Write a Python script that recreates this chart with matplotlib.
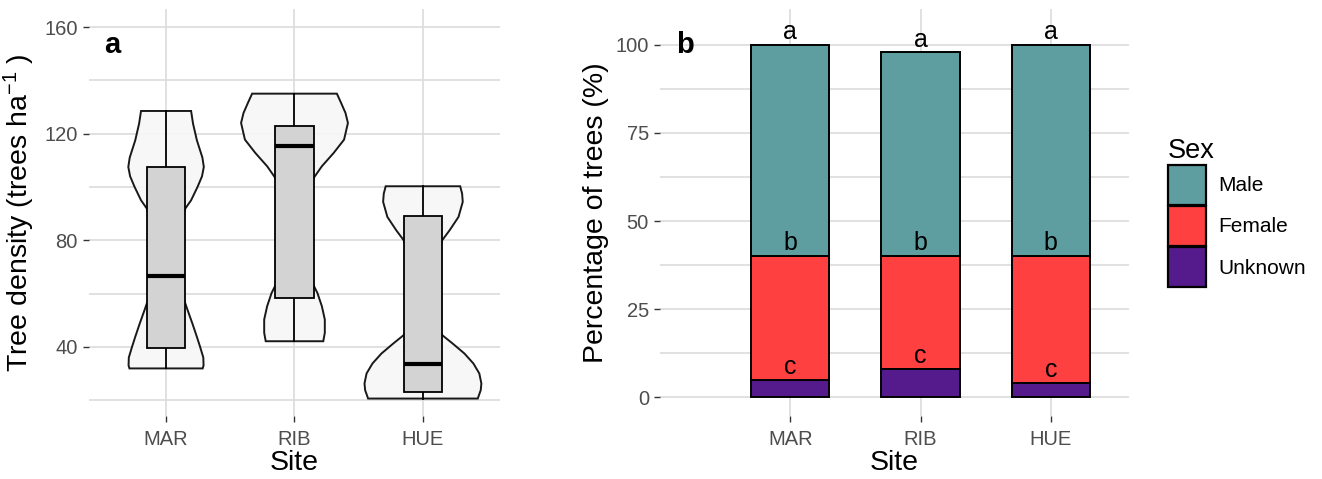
import numpy as np
import matplotlib.pyplot as plt
from matplotlib.patches import Patch

plt.rcParams['font.family'] = ['Liberation Sans', 'DejaVu Sans']
plt.rcParams['mathtext.default'] = 'regular'

# ── Data ──────────────────────────────────────────────────────────────────────
sites = ["MAR", "RIB", "HUE"]

# panel a: box statistics (trees ha-1)
box_lo  = [31.9, 42.1, 20.6]
box_q1  = [39.4, 58.4, 23.1]
box_med = [66.6, 115.5, 33.5]
box_q3  = [107.5, 122.75, 89.0]
box_hi  = [128.5, 135.0, 100.25]

# violin outlines: y level and half width (category units)
mar_y = [31.9, 33, 36, 40, 43.75, 48.75, 53.75, 56.25, 60, 66, 75, 85, 91.9,
         95, 100, 104, 107.5, 111, 117.5, 123.75, 128.5]
mar_w = [0.285, 0.292, 0.29, 0.265, 0.24, 0.205, 0.168, 0.15, 0.12, 0.09, 0.08,
         0.11, 0.15, 0.195, 0.245, 0.28, 0.294, 0.283, 0.24, 0.21, 0.195]
rib_y = [42.1, 45.25, 50.25, 55.25, 60.25, 62.75, 70, 80, 90, 98, 103.4,
         107.75, 112.75, 117.75, 124, 127.75, 131.5, 135]
rib_w = [0.224, 0.236, 0.236, 0.213, 0.178, 0.152, 0.10, 0.07, 0.08, 0.12,
         0.15, 0.213, 0.305, 0.386, 0.416, 0.397, 0.363, 0.33]
hue_y = [20.6, 23.75, 26.25, 30, 33.75, 37.5, 41.25, 44.4, 50, 60, 70, 76, 80,
         83.75, 88.75, 94.4, 97.5, 100.25]
hue_w = [0.427, 0.45, 0.455, 0.439, 0.393, 0.323, 0.231, 0.15, 0.10, 0.07,
         0.08, 0.12, 0.15, 0.208, 0.277, 0.31, 0.305, 0.29]

# panel b: percentage of trees by sex
male    = [60, 58, 60]
female  = [35, 32, 36]
unknown = [5, 8, 4]
let_male    = ["a", "a", "a"]
let_female  = ["b", "b", "b"]
let_unknown = ["c", "c", "c"]

col_male, col_female, col_unknown = "#5F9EA0", "#FF4040", "#551A8B"

# ── Figure ────────────────────────────────────────────────────────────────────
fig = plt.figure(figsize=(13.22, 4.79), dpi=100)
W, H = 1322, 479
axA = fig.add_axes([89 / W, 1 - 416 / H, 411 / W, 407.5 / H])
axB = fig.add_axes([660 / W, 1 - 416 / H, 469 / W, 407.5 / H])

def style(ax):
    for s in ax.spines.values():
        s.set_visible(False)
    ax.set_axisbelow(True)
    ax.grid(True, which="major", color="#dcdcdc", lw=1.2)
    ax.grid(True, which="minor", axis="y", color="#dcdcdc", lw=1.2)
    ax.tick_params(which="major", length=4, width=1.0, color="#333333",
                   labelcolor="#4D4D4D", labelsize=14.5, pad=4)
    ax.tick_params(axis="x", pad=6)
    ax.tick_params(which="minor", length=0)

# ── Panel a: violin + box ─────────────────────────────────────────────────────
x = np.arange(1, 4)
profiles = [(mar_y, mar_w), (rib_y, rib_w), (hue_y, hue_w)]
for xi, (yy, ww) in zip(x, profiles):
    yy = np.array(yy); ww = np.array(ww)
    xs = np.concatenate([xi - ww, (xi + ww)[::-1]])
    ys = np.concatenate([yy, yy[::-1]])
    axA.fill(xs, ys, facecolor="#f7f7f7", edgecolor="black", lw=1.4, alpha=0.9,
             zorder=2)

bw = 0.3
for i, xi in enumerate(x):
    axA.plot([xi, xi], [box_lo[i], box_q1[i]], color="black", lw=1.3, zorder=3)
    axA.plot([xi, xi], [box_q3[i], box_hi[i]], color="black", lw=1.3, zorder=3)
    axA.add_patch(plt.Rectangle((xi - bw / 2, box_q1[i]), bw, box_q3[i] - box_q1[i],
                                facecolor="#d3d3d3", edgecolor="black", lw=1.3,
                                zorder=4))
    axA.plot([xi - bw / 2, xi + bw / 2], [box_med[i]] * 2, color="black", lw=3,
             zorder=5, solid_capstyle="butt")

axA.set_xlim(0.4, 3.6)
axA.set_ylim(14.05, 166.95)
axA.set_xticks(x)
axA.set_xticklabels(sites)
axA.set_yticks([40, 80, 120, 160])
axA.set_yticks([20, 60, 100, 140], minor=True)
style(axA)
axA.set_xlabel("Site", fontsize=20.5, labelpad=1)
axA.set_ylabel("Tree density (trees ha$^{-1}$ )", fontsize=20.5, labelpad=5)
axA.text(0.58, 153.3, "a", fontsize=21, fontweight="bold", ha="center", va="center")

# ── Panel b: stacked bars ─────────────────────────────────────────────────────
u = np.array(unknown); f = np.array(female); m = np.array(male)
kw = dict(width=0.6, edgecolor="black", lw=1.4, zorder=3)
axB.bar(x, u, color=col_unknown, label="Unknown", **kw)
axB.bar(x, f, bottom=u, color=col_female, label="Female", **kw)
axB.bar(x, m, bottom=u + f, color=col_male, label="Male", **kw)

for i, xi in enumerate(x):
    axB.text(xi, u[i] + f[i] + m[i] + 3.5, let_male[i], fontsize=18, ha="center", va="center")
    axB.text(xi, u[i] + f[i] + 3.7, let_female[i], fontsize=18, ha="center", va="center")
    axB.text(xi, u[i] + 3.7, let_unknown[i], fontsize=18, ha="center", va="center")

axB.set_xlim(0, 3.6)
axB.set_ylim(-5.3, 110.3)
axB.set_xticks(x)
axB.set_xticklabels(sites)
axB.set_yticks([0, 25, 50, 75, 100])
axB.set_yticks([12.5, 37.5, 62.5, 87.5], minor=True)
style(axB)
axB.set_xlabel("Site", fontsize=20.5, labelpad=1)
axB.set_ylabel("Percentage of trees (%)", fontsize=20.5, labelpad=5)
axB.text(0.19, 100, "b", fontsize=21, fontweight="bold", ha="center", va="center")

handles = [Patch(facecolor=col_male, edgecolor="black", lw=1.6),
           Patch(facecolor=col_female, edgecolor="black", lw=1.6),
           Patch(facecolor=col_unknown, edgecolor="black", lw=1.6)]
leg = fig.legend(handles, ["Male", "Female", "Unknown"], title="Sex",
                 loc="upper left", bbox_to_anchor=(1168 / W, 1 - 138 / H),
                 frameon=False, fontsize=15, title_fontsize=19.5,
                 handlelength=1.8, handleheight=2.58, labelspacing=0.05,
                 handletextpad=0.6, borderpad=0, borderaxespad=0)
leg._legend_box.align = "left"

fig.savefig("out.png", dpi=100)
